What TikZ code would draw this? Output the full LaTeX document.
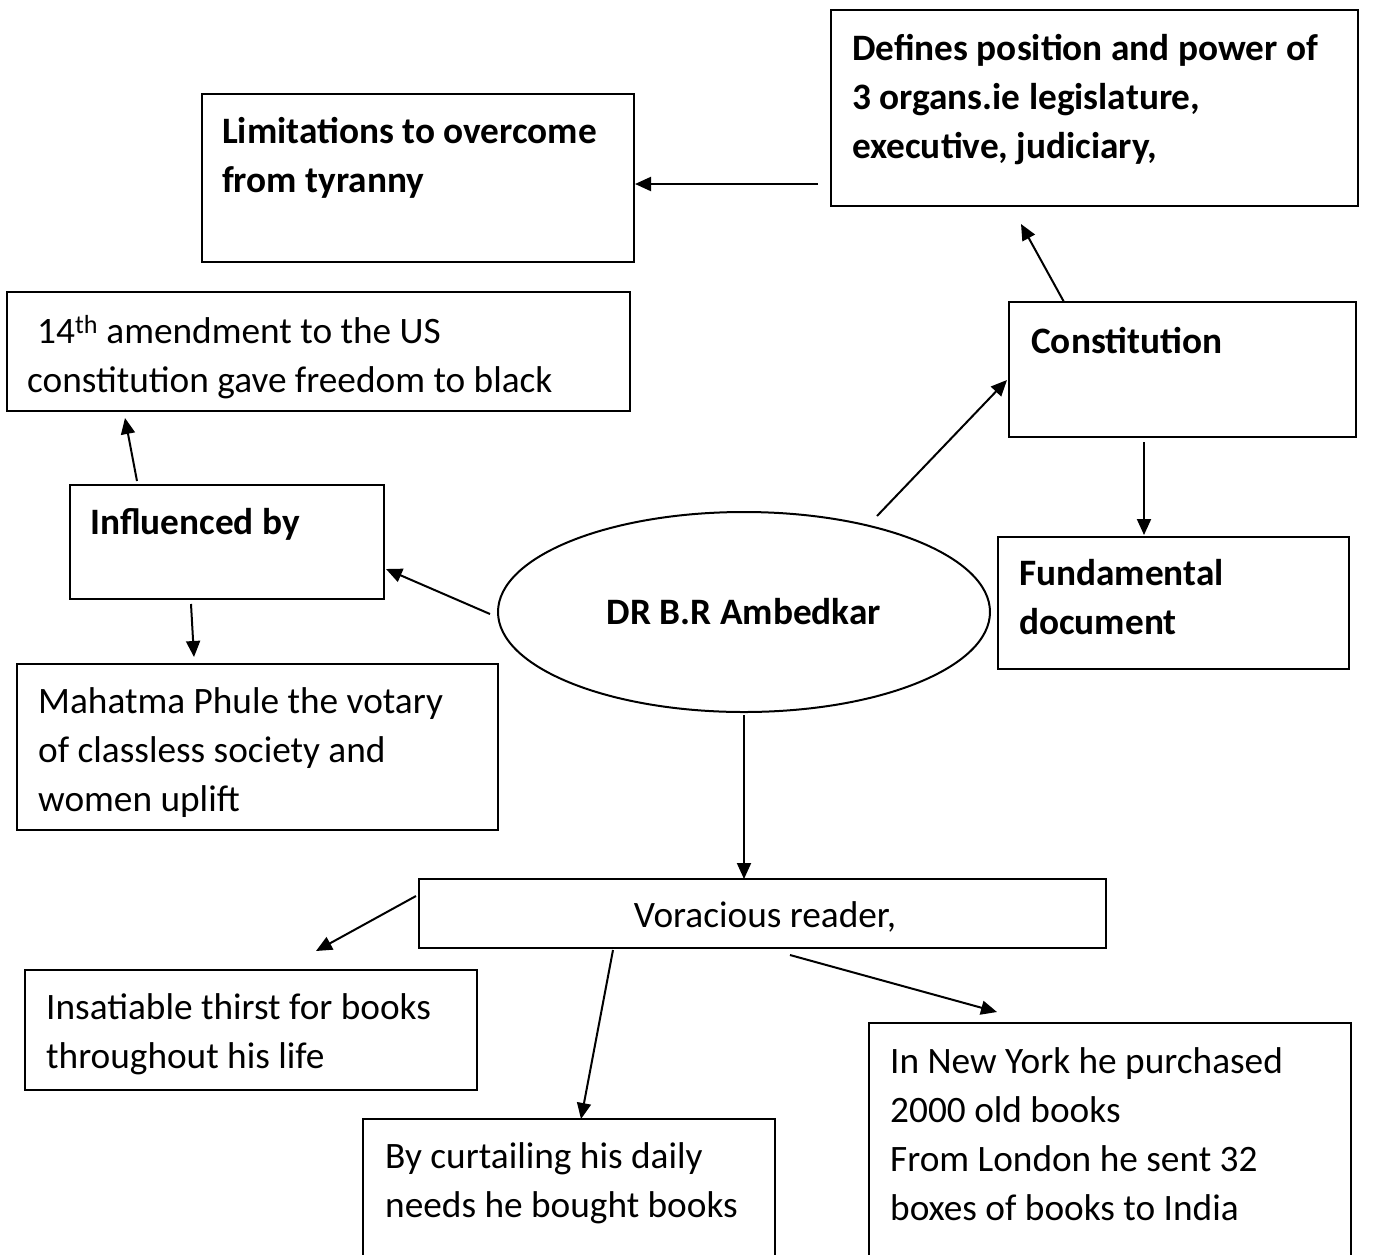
\documentclass[tikz,border=0pt]{standalone}
\usepackage{fontspec}
\setmainfont{Carlito}
\usetikzlibrary{arrows.meta,shapes.geometric}
\begin{document}
\begin{tikzpicture}[x=1pt,y=-1pt,
  box/.style={draw, line width=2pt, rectangle, inner sep=0pt},
  txt/.style={anchor=base west, inner sep=0pt, align=left,
    font=\fontsize{37.3}{49}\selectfont},
  txtb/.style={txt, font=\fontsize{37.3}{49}\selectfont\bfseries},
  arr/.style={line width=2pt, -{Triangle[length=16pt,width=14pt]}}]
\useasboundingbox (0,0) rectangle (1379,1254);

% boxes
\node[box, minimum width=432, minimum height=168] (lim) at (418,178) {};
\node[box, minimum width=527, minimum height=196] (def) at (1094.5,108) {};
\node[box, minimum width=623, minimum height=119] (ame) at (318.5,351.5) {};
\node[box, minimum width=347, minimum height=135] (con) at (1182.5,369.5) {};
\node[box, minimum width=314, minimum height=114] (inf) at (227,542) {};
\node[box, minimum width=351, minimum height=132] (fun) at (1173.5,603) {};
\node[box, minimum width=481, minimum height=166] (mah) at (257.5,747) {};
\node[box, minimum width=687, minimum height=69] (vor) at (762.5,913.5) {};
\node[box, minimum width=452, minimum height=120] (ins) at (251,1030) {};
\node[box, minimum width=412, minimum height=161] (cur) at (569,1199.5) {};
\node[box, minimum width=482, minimum height=257] (ny) at (1110,1151.5) {};

% central ellipse
\node[draw, line width=2pt, ellipse, minimum width=492, minimum height=200,
  font=\fontsize{37.3}{49}\selectfont\bfseries] (ell) at (744,612) {DR B.R Ambedkar};

% texts (multi-line nodes are placed by the baseline of their last line)
\node[txtb] (limt) at (222,192) {Limitations to overcome\\from tyranny};
\node[txtb] (deft) at (852,158) {Defines position and power of\\3 organs.ie legislature,\\executive, judiciary,};
\node[txt] (amet) at (27,392) {\hspace*{10pt}14\textsuperscript{th} amendment to the US\\constitution gave freedom to black};
\node[txtb] (cont) at (1031,353) {Constitution};
\node[txtb] (inft) at (90,534) {Influenced by};
\node[txtb] (funt) at (1019,634) {Fundamental\\document};
\node[txt] (maht) at (38,811) {Mahatma Phule the votary\\of classless society and\\women uplift};
\node[txt, anchor=base] (vort) at (765,927) {Voracious reader,};
\node[txt] (inst) at (46,1068) {Insatiable thirst for books\\throughout his life};
\node[txt] (curt) at (385,1217) {By curtailing his daily\\needs he bought books};
\node[txt] (nyt) at (890,1220) {In New York he purchased\\2000 old books\\From London he sent 32\\boxes of books to India};

% connector ends
\coordinate (p1) at (818,184);
\coordinate (p2s) at (1064,302);
\coordinate (p2e) at (1021,224);
\coordinate (p3s) at (877,516);
\coordinate (p3e) at (1007,380);
\coordinate (p4s) at (1144,442);
\coordinate (p4e) at (1144,535);
\coordinate (p5s) at (490,614);
\coordinate (p5e) at (386,569);
\coordinate (p6s) at (137,481);
\coordinate (p6e) at (125,418);
\coordinate (p7s) at (191,604);
\coordinate (p7e) at (194,657);
\coordinate (p8s) at (744,715);
\coordinate (p8e) at (744,879);
\coordinate (p9s) at (416,896);
\coordinate (p9e) at (316,951);
\coordinate (p10s) at (613,950);
\coordinate (p10e) at (581,1119);
\coordinate (p11s) at (790,955);
\coordinate (p11e) at (997,1012);

% connectors
\draw[arr] (p1) -- (p1 -| lim.east);
\draw[arr] (p2s) -- (p2e);
\draw[arr] (p3s) -- (p3e);
\draw[arr] (p4s) -- (p4e);
\draw[arr] (p5s) -- (p5e);
\draw[arr] (p6s) -- (p6e);
\draw[arr] (p7s) -- (p7e);
\draw[arr] (p8s) -- (p8e);
\draw[arr] (p9s) -- (p9e);
\draw[arr] (p10s) -- (p10e);
\draw[arr] (p11s) -- (p11e);
\end{tikzpicture}
\end{document}
